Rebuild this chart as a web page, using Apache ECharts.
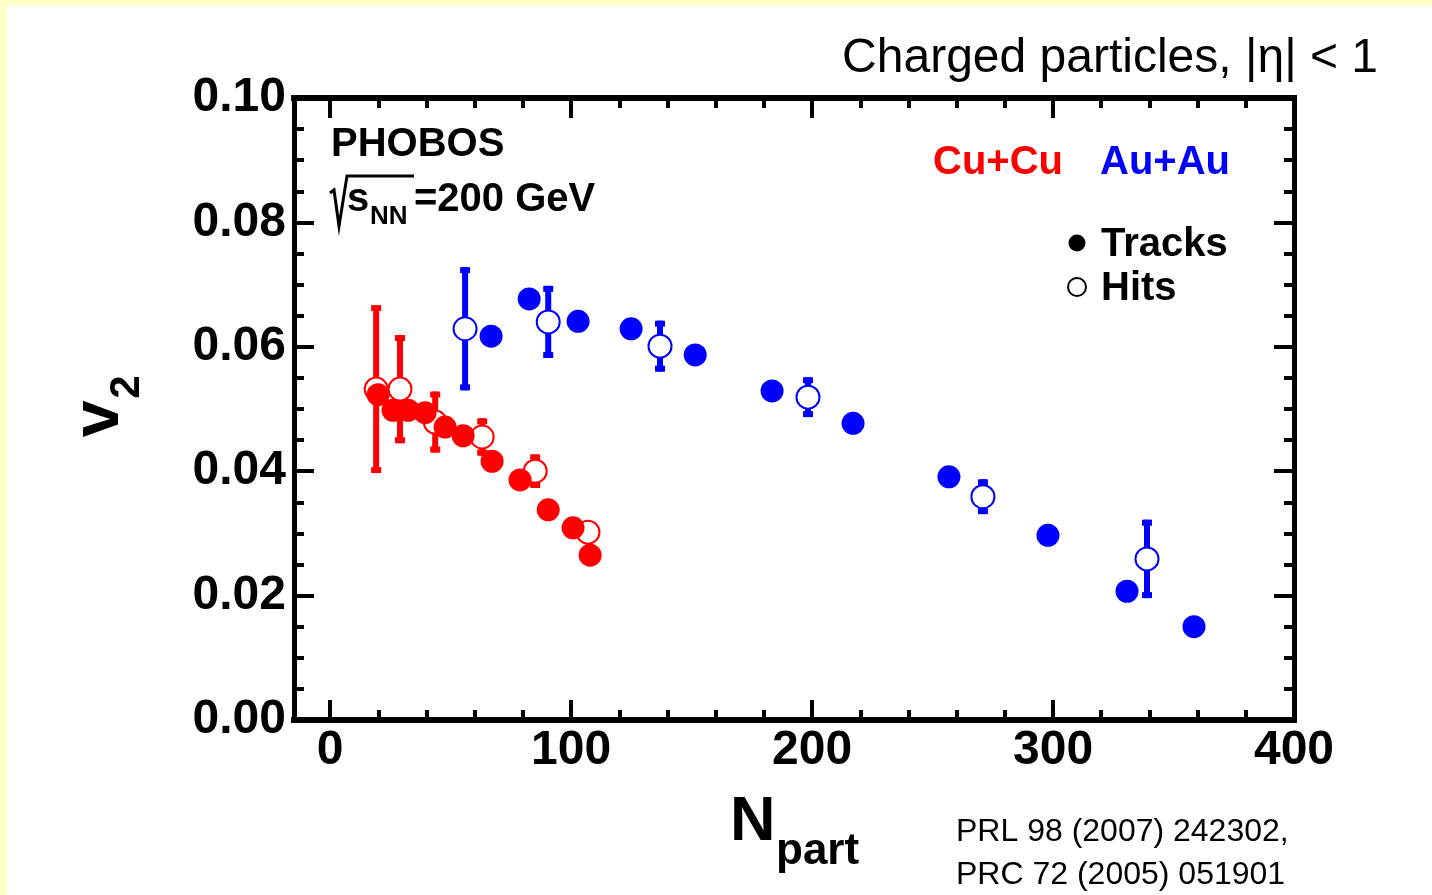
<!DOCTYPE html>
<html>
<head>
<meta charset="utf-8">
<script src="https://cdn.jsdelivr.net/npm/echarts@6/dist/echarts.min.js"></script>
<style>
  html, body { margin: 0; padding: 0; background: #FFFFCC; }
  #sheet { position: absolute; left: 7px; top: 6px; width: 1425px; height: 889px; background: #ffffff; }
  #chart { position: absolute; left: 0; top: 0; width: 1432px; height: 895px; }
</style>
</head>
<body>
<div id="sheet"></div>
<div id="chart"></div>
<script>
// Elliptic flow v2 vs. number of participants, PHOBOS, sqrt(sNN)=200 GeV

// Cu+Cu, track-based
const cuTracksNpart = [19.9, 26.1, 32.4, 39.4, 47.7, 55.2, 67.2, 78.8, 90.5, 100.8, 107.9];
const cuTracksV2    = [0.0523, 0.0498, 0.0498, 0.0494, 0.0471, 0.0457, 0.0416, 0.0386, 0.0338, 0.0309, 0.0265];

// Cu+Cu, hit-based
const cuHitsNpart = [19.1, 29.0, 43.6, 63.1, 85.1, 107.0];
const cuHitsV2    = [0.0532, 0.0532, 0.0479, 0.0455, 0.0400, 0.0302];
const cuHitsErr   = [0.0135, 0.0087, 0.0049, 0.0030, 0.0027, 0.0015];

// Au+Au, track-based
const auTracksNpart = [66.8, 82.6, 102.9, 124.9, 151.5, 183.4, 217.0, 256.8, 297.9, 330.7, 358.5];
const auTracksV2    = [0.0617, 0.0677, 0.0641, 0.0629, 0.0587, 0.0529, 0.0477, 0.0391, 0.0297, 0.0207, 0.0150];

// Au+Au, hit-based
const auHitsNpart = [56.0, 90.5, 136.9, 198.3, 270.9, 339.0];
const auHitsV2    = [0.0629, 0.0640, 0.0601, 0.0519, 0.0359, 0.0259];
const auHitsErr   = [0.0099, 0.0058, 0.0041, 0.0032, 0.0028, 0.0063];

// Axis ticks
const xMajorTicks = [0, 100, 200, 300, 400];
const xMinorTicks = [20, 40, 60, 80, 120, 140, 160, 180, 220, 240, 260, 280, 320, 340, 360, 380];
const yTickStep = 0.02;

const FONT = '"Liberation Sans", Arial, Helvetica, sans-serif';
const RED = '#FF0000';
const BLUE = '#0000FF';

const chart = echarts.init(document.getElementById('chart'), null, { renderer: 'canvas' });

function pairs(xs, ys) {
  return xs.map((x, i) => [x, ys[i]]);
}

function errorBars(xs, ys, errs, color) {
  return {
    type: 'custom',
    xAxisIndex: 0,
    yAxisIndex: 0,
    z: 1,
    silent: true,
    data: xs.map((x, i) => [x, ys[i] - errs[i], ys[i] + errs[i]]),
    encode: { x: 0, y: [1, 2] },
    renderItem(params, api) {
      const lo = api.coord([api.value(0), api.value(1)]);
      const hi = api.coord([api.value(0), api.value(2)]);
      const w = 6, cw = 10, ch = 6;
      return {
        type: 'group',
        children: [
          { type: 'rect', shape: { x: lo[0] - w / 2, y: hi[1], width: w, height: lo[1] - hi[1] }, style: { fill: color } },
          { type: 'rect', shape: { x: lo[0] - cw / 2, y: hi[1], width: cw, height: ch }, style: { fill: color } },
          { type: 'rect', shape: { x: lo[0] - cw / 2, y: lo[1] - ch, width: cw, height: ch }, style: { fill: color } }
        ]
      };
    }
  };
}

function openMarkers(xs, ys, color) {
  return {
    type: 'scatter',
    xAxisIndex: 0, yAxisIndex: 0,
    z: 2,
    symbol: 'circle',
    symbolSize: 23,
    itemStyle: { color: '#ffffff', borderColor: color, borderWidth: 2, opacity: 1 },
    data: pairs(xs, ys)
  };
}

function filledMarkers(xs, ys, color) {
  return {
    type: 'scatter',
    xAxisIndex: 0, yAxisIndex: 0,
    z: 3,
    symbol: 'circle',
    symbolSize: 23,
    itemStyle: { color: color, opacity: 1 },
    data: pairs(xs, ys)
  };
}

const frameLine = { show: true, onZero: false, lineStyle: { color: '#000', width: 6, cap: 'square' } };
const noLine = { show: false, onZero: false };

function xAxisDef(position, ticks, len, withLine, withLabels) {
  return {
    type: 'value',
    position: position,
    min: -15,
    max: 400,
    axisLine: withLine ? frameLine : noLine,
    axisTick: { show: true, inside: true, length: len, customValues: ticks, lineStyle: { color: '#000', width: 4 } },
    axisLabel: withLabels
      ? { show: true, customValues: ticks, margin: 7, color: '#000', fontFamily: FONT, fontWeight: 'bold', fontSize: 48 }
      : { show: false },
    splitLine: { show: false }
  };
}

function yAxisDef(position, withLabels) {
  return {
    type: 'value',
    position: position,
    min: 0,
    max: 0.1,
    interval: yTickStep,
    axisLine: { show: true, onZero: false, lineStyle: { color: '#000', width: 5, cap: 'square' } },
    axisTick: { show: true, inside: true, length: 20, lineStyle: { color: '#000', width: 4 } },
    minorTick: { show: true, splitNumber: 4, length: 10, lineStyle: { color: '#000', width: 4 } },
    axisLabel: withLabels
      ? { show: true, margin: 8, color: '#000', fontFamily: FONT, fontWeight: 'bold', fontSize: 48,
          padding: [6, 0, 0, 0], formatter: v => v.toFixed(2) }
      : { show: false },
    splitLine: { show: false },
    minorSplitLine: { show: false }
  };
}

function label(text, x, y, size, opts) {
  opts = opts || {};
  return {
    type: 'text',
    x: x, y: y,
    rotation: opts.rotation || 0,
    z: 10,
    style: {
      text: text,
      fill: opts.color || '#000',
      font: (opts.weight || 'bold') + ' ' + size + 'px ' + FONT,
      align: opts.align || 'left',
      verticalAlign: 'middle'
    }
  };
}

const option = {
  backgroundColor: 'transparent',
  animation: false,
  grid: { left: 294, right: 138, top: 98, bottom: 175, containLabel: false },
  xAxis: [
    xAxisDef('bottom', xMajorTicks, 20, true, true),
    xAxisDef('bottom', xMinorTicks, 10, false, false),
    xAxisDef('top', xMajorTicks, 20, true, false),
    xAxisDef('top', xMinorTicks, 10, false, false)
  ],
  yAxis: [
    yAxisDef('left', true),
    yAxisDef('right', false)
  ],
  series: [
    errorBars(cuHitsNpart, cuHitsV2, cuHitsErr, RED),
    errorBars(auHitsNpart, auHitsV2, auHitsErr, BLUE),
    openMarkers(cuHitsNpart, cuHitsV2, RED),
    openMarkers(auHitsNpart, auHitsV2, BLUE),
    filledMarkers(cuTracksNpart, cuTracksV2, RED),
    filledMarkers(auTracksNpart, auTracksV2, BLUE)
  ],
  graphic: {
    elements: [
      label('Charged particles, |\u03B7| < 1', 1378, 59, 48, { weight: 'normal', align: 'right' }),

      label('PHOBOS', 331, 145, 40),
      {
        type: 'polyline', z: 10,
        shape: { points: [[330, 193], [334, 190], [339, 226], [347, 176], [414, 176]] },
        style: { stroke: '#000', lineWidth: 3, fill: null }
      },
      label('s', 347, 200, 40),
      label('NN', 370, 217, 26),
      label('=200 GeV', 414, 200, 40),

      label('Cu+Cu', 933, 163, 40, { color: RED }),
      label('Au+Au', 1100, 163, 40, { color: BLUE }),

      { type: 'circle', z: 10, shape: { cx: 1077, cy: 243, r: 8.5 }, style: { fill: '#000' } },
      label('Tracks', 1101, 245, 40),
      { type: 'circle', z: 10, shape: { cx: 1077, cy: 287, r: 9 }, style: { fill: '#fff', stroke: '#000', lineWidth: 2 } },
      label('Hits', 1101, 289, 40),

      label('v', 100, 419, 66, { rotation: Math.PI / 2, align: 'center' }),
      label('2', 127, 387, 42, { rotation: Math.PI / 2, align: 'center' }),

      label('N', 730, 823, 63),
      label('part', 776, 852, 44),

      label('PRL 98 (2007) 242302,', 956, 832, 32, { weight: 'normal' }),
      label('PRC 72 (2005) 051901', 956, 875, 32, { weight: 'normal' })
    ]
  }
};

chart.setOption(option);
</script>
</body>
</html>
